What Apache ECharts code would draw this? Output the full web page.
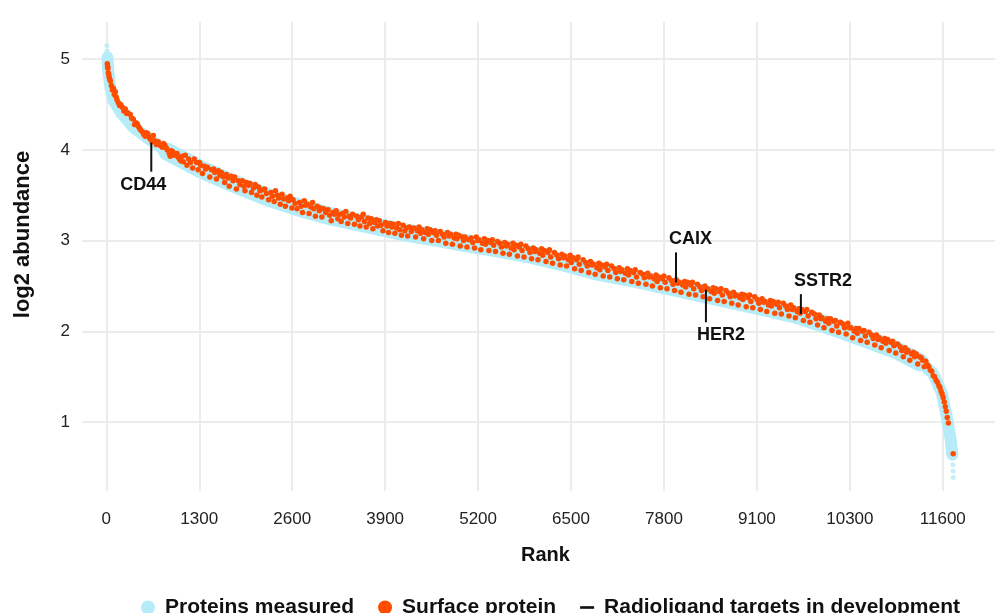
<!DOCTYPE html>
<html>
<head>
<meta charset="utf-8">
<script src="https://cdn.jsdelivr.net/npm/echarts@6/dist/echarts.min.js"></script>
<style>
  html, body { margin: 0; padding: 0; background: #fff; }
  #chart { width: 1001px; height: 613px; }
</style>
</head>
<body>
<div id="chart"></div>
<script>
// x axis ticks (labels are printed as in the source figure)
const xTickValues = [0, 1300, 2600, 3900, 5200, 6500, 7800, 9100, 10400, 11700];
const xTickLabels = ["0", "1300", "2600", "3900", "5200", "6500", "7800", "9100", "10300", "11600"];
const yTickValues = [1, 2, 3, 4, 5];

// all measured proteins: centre of the dense band, [rank, log2 abundance]
const measuredBand = [
  [16, 5.02], [28, 4.86], [56, 4.69], [98, 4.55], [196, 4.42], [377, 4.25], [615, 4.11],
  [853, 3.98], [1076, 3.89], [1314, 3.79], [1775, 3.63], [2250, 3.48], [2712, 3.36],
  [3173, 3.26], [3648, 3.18], [4110, 3.10], [4571, 3.04], [5046, 2.97], [5508, 2.91],
  [5969, 2.84], [6390, 2.76], [6860, 2.66], [7325, 2.59], [7786, 2.51], [8260, 2.43],
  [8722, 2.35], [9184, 2.27], [9659, 2.18], [10120, 2.06], [10582, 1.93], [11057, 1.79],
  [11378, 1.66], [11560, 1.54], [11686, 1.32], [11755, 1.06], [11812, 0.80], [11832, 0.64]
];
// the flat middle part of the band is spread wider
const measuredBandMiddle = [
  [853, 3.98], [1076, 3.89], [1314, 3.79], [1775, 3.63], [2250, 3.48], [2712, 3.36],
  [3173, 3.26], [3648, 3.18], [4110, 3.10], [4571, 3.04], [5046, 2.97], [5508, 2.91],
  [5969, 2.84], [6390, 2.76], [6860, 2.66], [7325, 2.59], [7786, 2.51], [8260, 2.43],
  [8722, 2.35], [9184, 2.27], [9659, 2.18], [10120, 2.06], [10582, 1.93], [11057, 1.79],
  [11378, 1.66]
];
// sparse single proteins at both ends
const measuredEnds = [[8, 5.15], [11, 5.09], [11840, 0.53], [11844, 0.46], [11847, 0.39]];

// surface proteins
const surface = [
  [14,4.95],[18,4.92],[22,4.90],[28,4.85],[34,4.83],[40,4.80],[48,4.78],[56,4.76],[70,4.71],[85,4.66],[98,4.68],
  [112,4.61],[126,4.64],[140,4.58],[150,4.55],[168,4.52],[185,4.49],[200,4.50],[224,4.47],[245,4.43],[266,4.45],
  [285,4.40],[300,4.41],[335,4.39],[355,4.35],[377,4.34],[395,4.28],[410,4.30],[430,4.29],[447,4.26],[465,4.24],
  [480,4.22],[503,4.20],[525,4.17],[545,4.15],[560,4.19],[580,4.18],[600,4.14],[615,4.12],[640,4.09],[657,4.16],
  [675,4.10],[700,4.06],[727,4.09],[750,4.05],[783,4.03],[800,4.07],[820,4.05],[840,4.02],[853,4.00],[880,3.96],
  [895,3.93],[910,3.99],[930,3.98],[950,3.94],[965,3.95],[990,3.96],[1006,3.92],[1025,3.90],[1040,3.88],[1060,3.93],[1076,3.87],
  [1105,3.94],[1128,3.83],[1150,3.90],[1177,3.86],[1208,3.80],[1230,3.90],[1262,3.86],[1285,3.78],
  [1303,3.86],[1320,3.83],[1345,3.74],[1372,3.82],[1390,3.79],[1415,3.81],[1448,3.70],[1470,3.78],
  [1502,3.79],[1518,3.75],[1540,3.68],[1566,3.77],[1590,3.72],[1610,3.75],[1637,3.70],[1655,3.64],[1680,3.73],
  [1705,3.69],[1720,3.60],[1745,3.71],[1772,3.66],[1795,3.70],[1820,3.57],[1846,3.66],[1870,3.62],
  [1903,3.66],[1925,3.60],[1940,3.55],[1962,3.64],[1988,3.61],[2010,3.63],[2031,3.53],[2058,3.58],[2082,3.62],
  [2106,3.50],[2128,3.59],[2150,3.55],[2175,3.48],[2193,3.56],[2215,3.57],[2240,3.52],[2270,3.45],
  [2302,3.53],[2322,3.49],[2348,3.43],[2366,3.55],[2389,3.50],[2410,3.47],[2433,3.40],[2458,3.51],[2480,3.46],
  [2505,3.38],[2527,3.47],[2550,3.44],[2571,3.49],[2596,3.36],[2612,3.45],[2640,3.41],[2668,3.35],
  [2703,3.42],[2725,3.38],[2744,3.31],[2768,3.44],[2790,3.39],[2810,3.40],[2836,3.30],[2860,3.37],[2884,3.42],
  [2902,3.35],[2925,3.27],[2950,3.38],[2978,3.33],[2995,3.36],[3015,3.26],[3040,3.35],[3068,3.31],
  [3102,3.34],[3124,3.28],[3146,3.22],[3170,3.31],[3192,3.29],[3215,3.33],[3238,3.24],[3262,3.29],[3285,3.21],
  [3305,3.30],[3328,3.26],[3350,3.32],[3377,3.19],[3396,3.27],[3418,3.25],[3445,3.29],[3470,3.18],
  [3502,3.27],[3526,3.23],[3548,3.16],[3570,3.26],[3594,3.29],[3610,3.21],[3635,3.15],[3660,3.25],[3684,3.19],
  [3705,3.24],[3728,3.13],[3750,3.20],[3777,3.23],[3795,3.16],[3818,3.22],[3842,3.17],[3870,3.11],
  [3903,3.20],[3925,3.16],[3948,3.09],[3970,3.19],[3993,3.15],[4012,3.18],[4036,3.08],[4060,3.14],[4085,3.19],
  [4104,3.12],[4128,3.06],[4150,3.17],[4176,3.11],[4196,3.14],[4215,3.05],[4240,3.15],[4266,3.10],
  [4302,3.14],[4326,3.04],[4350,3.11],[4374,3.15],[4395,3.08],[4412,3.12],[4438,3.02],[4462,3.09],[4488,3.13],
  [4505,3.07],[4530,3.12],[4552,3.00],[4576,3.09],[4598,3.11],[4618,3.06],[4645,3.00],[4670,3.10],
  [4703,3.07],[4725,3.04],[4748,2.97],[4772,3.09],[4795,3.05],[4815,3.07],[4840,2.96],[4866,3.03],[4890,3.07],
  [4904,3.02],[4928,3.06],[4950,2.94],[4976,3.04],[4997,3.00],[5018,3.04],[5044,2.93],[5070,3.01],
  [5103,3.03],[5126,2.98],[5150,2.92],[5174,3.04],[5196,3.00],[5212,3.01],[5238,2.90],[5262,2.97],[5288,3.02],
  [5305,2.96],[5330,3.00],[5352,2.89],[5376,2.98],[5398,3.01],[5418,2.95],[5444,2.88],[5470,2.99],
  [5502,2.97],[5525,2.93],[5548,2.86],[5572,2.98],[5594,2.94],[5612,2.96],[5638,2.85],[5662,2.92],[5688,2.97],
  [5704,2.90],[5728,2.95],[5750,2.83],[5776,2.93],[5798,2.96],[5816,2.89],[5842,2.82],[5868,2.94],
  [5903,2.91],[5926,2.87],[5948,2.80],[5972,2.92],[5995,2.88],[6012,2.90],[6038,2.79],[6062,2.86],[6088,2.91],
  [6104,2.84],[6128,2.89],[6150,2.77],[6176,2.87],[6198,2.90],[6216,2.82],[6242,2.75],[6268,2.87],
  [6303,2.84],[6326,2.80],[6348,2.73],[6372,2.85],[6395,2.81],[6412,2.83],[6438,2.72],[6462,2.79],[6488,2.84],
  [6504,2.76],[6528,2.81],[6550,2.69],[6576,2.79],[6598,2.82],[6616,2.74],[6642,2.67],[6668,2.79],
  [6703,2.76],[6726,2.72],[6748,2.65],[6772,2.77],[6795,2.73],[6812,2.74],[6838,2.63],[6862,2.70],[6888,2.75],
  [6904,2.68],[6928,2.73],[6950,2.61],[6976,2.71],[6998,2.74],[7016,2.67],[7042,2.60],[7068,2.72],
  [7103,2.69],[7126,2.65],[7148,2.58],[7172,2.70],[7195,2.66],[7212,2.68],[7238,2.57],[7262,2.64],[7288,2.69],
  [7304,2.62],[7328,2.67],[7350,2.55],[7376,2.65],[7398,2.68],[7416,2.60],[7442,2.53],[7468,2.65],
  [7503,2.63],[7526,2.59],[7548,2.52],[7572,2.64],[7595,2.60],[7612,2.61],[7638,2.50],[7662,2.58],[7688,2.62],
  [7704,2.55],[7728,2.60],[7750,2.48],[7776,2.58],[7798,2.61],[7816,2.54],[7842,2.47],[7868,2.59],
  [7903,2.56],[7926,2.52],[7948,2.45],[7972,2.57],[7995,2.53],[8012,2.54],[8038,2.43],[8062,2.51],[8088,2.55],
  [8104,2.49],[8128,2.54],[8150,2.41],[8176,2.51],[8198,2.54],[8216,2.47],[8242,2.40],[8268,2.52],
  [8303,2.49],[8326,2.45],[8348,2.38],[8372,2.50],[8395,2.46],[8412,2.47],[8438,2.36],[8462,2.44],[8488,2.48],
  [8504,2.42],[8528,2.47],[8550,2.34],[8576,2.44],[8598,2.47],[8616,2.40],[8642,2.33],[8668,2.45],
  [8703,2.42],[8726,2.38],[8748,2.31],[8772,2.43],[8795,2.39],[8812,2.40],[8838,2.29],[8862,2.37],[8888,2.41],
  [8904,2.35],[8928,2.40],[8950,2.27],[8976,2.37],[8998,2.40],[9016,2.33],[9042,2.26],[9068,2.38],
  [9103,2.35],[9126,2.31],[9148,2.24],[9172,2.36],[9195,2.32],[9212,2.33],[9238,2.22],[9262,2.29],[9288,2.34],
  [9304,2.28],[9328,2.33],[9350,2.20],[9376,2.30],[9398,2.32],[9416,2.26],[9442,2.19],[9468,2.31],
  [9503,2.28],[9526,2.24],[9548,2.17],[9572,2.29],[9595,2.24],[9612,2.26],[9638,2.15],[9662,2.22],[9688,2.25],
  [9704,2.20],[9728,2.24],[9750,2.12],[9776,2.22],[9798,2.24],[9816,2.17],[9842,2.10],[9868,2.21],
  [9903,2.19],[9926,2.14],[9948,2.07],[9972,2.18],[9995,2.14],[10012,2.15],[10038,2.04],[10062,2.11],[10088,2.14],
  [10104,2.09],[10128,2.14],[10150,2.01],[10176,2.11],[10198,2.12],[10216,2.06],[10242,1.99],[10268,2.10],
  [10303,2.08],[10326,2.04],[10348,1.97],[10372,2.09],[10395,2.04],[10412,2.04],[10438,1.93],[10462,2.00],[10488,2.03],
  [10504,1.98],[10528,2.03],[10550,1.90],[10576,2.00],[10598,2.01],[10616,1.95],[10642,1.88],[10668,1.99],
  [10703,1.96],[10726,1.92],[10748,1.85],[10772,1.96],[10795,1.91],[10812,1.93],[10838,1.82],[10862,1.89],[10888,1.92],
  [10904,1.87],[10928,1.91],[10950,1.79],[10976,1.88],[10998,1.89],[11016,1.84],[11042,1.76],[11068,1.86],
  [11103,1.83],[11126,1.79],[11148,1.72],[11172,1.82],[11195,1.77],[11212,1.79],[11238,1.68],[11262,1.75],[11288,1.77],
  [11304,1.72],[11328,1.75],[11350,1.64],[11376,1.72],[11398,1.71],[11418,1.68],[11440,1.61],[11462,1.67],[11485,1.63],
  [11505,1.61],[11525,1.57],[11545,1.56],[11565,1.51],[11585,1.50],[11605,1.46],[11625,1.44],[11645,1.40],[11660,1.38],
  [11675,1.34],[11690,1.31],[11705,1.27],[11720,1.22],[11735,1.17],[11748,1.12],[11762,1.05],[11778,0.99],[11845,0.65]
];

// radioligand targets: name, rank, value where the marker starts, value where it ends
const targetNames = ["CD44", "CAIX", "HER2", "SSTR2"];
const targetRank = [629, 7968, 8387, 9715];
const targetFrom = [4.08, 2.54, 2.46, 2.19];
const targetTo = [3.76, 2.87, 2.10, 2.41];

const BLUE = "#b6ecf8";
const ORANGE = "#ff4d00";
const INK = "#111111";
const FONT = "Liberation Sans, Arial, sans-serif";

var chartDom = document.getElementById("chart");
var myChart = echarts.init(chartDom);

const targetData = targetRank.map((r, i) => [r, targetFrom[i], targetTo[i]]);
// where each label sits relative to its marker
const labelShift = {
  CD44: { align: "center", dx: -8 },
  CAIX: { align: "left", dx: -7 },
  HER2: { align: "left", dx: -9 },
  SSTR2: { align: "left", dx: -7 },
};

var option = {
  animation: false,
  backgroundColor: "#ffffff",
  textStyle: { fontFamily: FONT },
  grid: { left: 82, right: 6, top: 22, bottom: 122 },
  legend: {
    left: 136,
    top: 592,
    itemWidth: 14,
    itemHeight: 14,
    itemGap: 24,
    textStyle: { fontSize: 21, fontWeight: "bold", color: INK, fontFamily: FONT, padding: [0, 0, 0, 5] },
    data: [
      { name: "Proteins measured", icon: "circle" },
      { name: "Surface protein", icon: "circle" },
      { name: "Radioligand targets in development", icon: "path://M0,0H16V3H0Z" },
    ],
  },
  xAxis: {
    type: "value",
    min: -340,
    max: 12430,
    name: "Rank",
    nameLocation: "middle",
    nameGap: 54,
    nameTextStyle: { fontSize: 20, fontWeight: "bold", color: INK, padding: [0, 0, 0, 14] },
    axisLine: { show: false },
    axisTick: { show: false, customValues: xTickValues },
    axisLabel: {
      customValues: xTickValues,
      fontSize: 17,
      color: "#222",
      margin: 20,
      formatter: (v) => xTickLabels[xTickValues.indexOf(v)],
    },
    splitLine: { show: true, lineStyle: { color: "#ececec", width: 2 } },
  },
  yAxis: {
    type: "value",
    min: 0.24,
    max: 5.41,
    splitNumber: 5,
    name: "log2 abundance",
    nameLocation: "middle",
    nameGap: 48,
    nameTextStyle: { fontSize: 22, fontWeight: "bold", color: INK, padding: [0, 0, 0, 44] },
    axisLine: { show: false },
    axisTick: { show: false },
    axisLabel: {
      fontSize: 17,
      color: "#222",
      margin: 12,
      showMinLabel: false,
      showMaxLabel: false,
      formatter: (v) => (yTickValues.indexOf(v) >= 0 ? String(v) : ""),
    },
    splitLine: {
      show: true,
      showMinLine: false,
      showMaxLine: false,
      lineStyle: { color: "#ececec", width: 2 },
    },
  },
  series: [
    {
      name: "Proteins measured",
      type: "line",
      data: measuredBand,
      showSymbol: false,
      itemStyle: { color: BLUE },
      lineStyle: { color: BLUE, width: 12, cap: "round", join: "round" },
      z: 1,
    },
    {
      name: "Proteins measured",
      type: "line",
      data: measuredBandMiddle,
      showSymbol: false,
      itemStyle: { color: BLUE },
      lineStyle: { color: BLUE, width: 18, cap: "round", join: "round" },
      z: 1,
    },
    {
      name: "Proteins measured",
      type: "scatter",
      data: measuredEnds,
      symbolSize: 5,
      itemStyle: { color: BLUE },
      z: 1,
    },
    {
      name: "Surface protein",
      type: "scatter",
      data: surface,
      symbolSize: 5.5,
      itemStyle: { color: ORANGE, opacity: 1 },
      z: 2,
    },
    {
      name: "Radioligand targets in development",
      type: "custom",
      data: targetData,
      encode: { x: 0, y: [1, 2] },
      itemStyle: { color: INK },
      z: 3,
      renderItem: function (params, api) {
        const name = targetNames[params.dataIndex];
        const a = api.coord([api.value(0), api.value(1)]);
        const b = api.coord([api.value(0), api.value(2)]);
        const down = b[1] > a[1];
        const s = labelShift[name];
        return {
          type: "group",
          children: [
            {
              type: "line",
              shape: { x1: a[0], y1: a[1], x2: b[0], y2: b[1] },
              style: { stroke: INK, lineWidth: 2 },
            },
            {
              type: "text",
              x: b[0] + s.dx,
              y: down ? b[1] + 4 : b[1] - 4,
              style: {
                text: name,
                fill: INK,
                fontSize: 18,
                fontWeight: "bold",
                fontFamily: FONT,
                align: s.align,
                verticalAlign: down ? "top" : "bottom",
              },
            },
          ],
        };
      },
    },
  ],
};

option && myChart.setOption(option);
</script>
</body>
</html>
